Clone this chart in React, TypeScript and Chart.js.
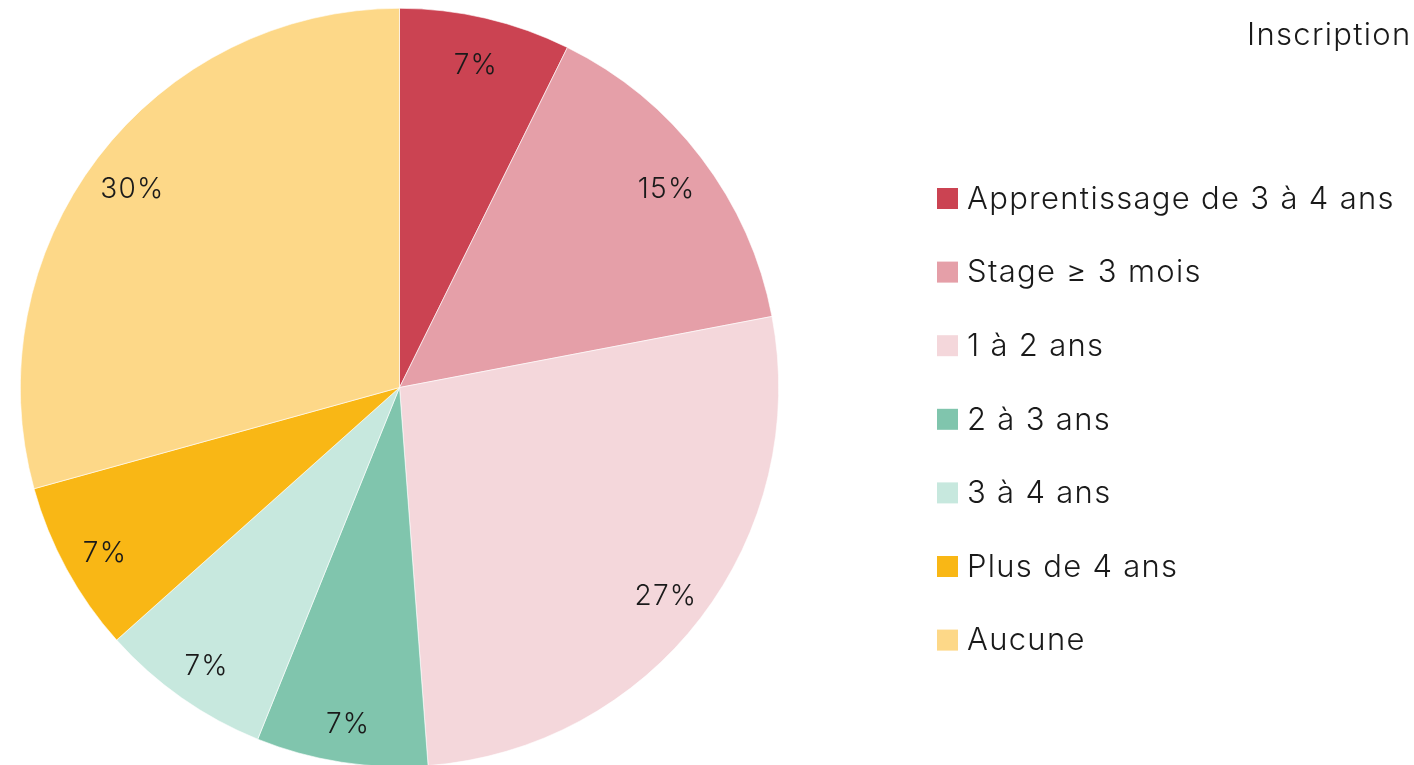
import React, { useEffect, useRef } from "react";
import { Chart, registerables } from "chart.js";

Chart.register(...registerables);

const categories = [
  "Apprentissage de 3 à 4 ans",
  "Stage ≥ 3 mois",
  "1 à 2 ans",
  "2 à 3 ans",
  "3 à 4 ans",
  "Plus de 4 ans",
  "Aucune",
];
const values = [7.3, 14.7, 26.8, 7.3, 7.3, 7.3, 29.3];
const valueLabels = ["7%", "15%", "27%", "7%", "7%", "7%", "30%"];
const colors = ["#CB4352", "#E59FA8", "#F4D7DB", "#80C5AD", "#C7E8DE", "#F9B715", "#FDD888"];
const titleText = "Inscription";

const FONT = "Inter, 'Noto Sans', sans-serif";

const labelsPlugin = {
  id: "sliceLabels",
  afterDatasetsDraw(chart: any) {
    const ctx = chart.ctx;
    const meta = chart.getDatasetMeta(0);
    ctx.save();
    ctx.font = `300 28px ${FONT}`;
    (ctx as any).letterSpacing = "1.2px";
    ctx.fillStyle = "#1a1a1a";
    ctx.textAlign = "center";
    ctx.textBaseline = "middle";
    meta.data.forEach((arc: any, i: number) => {
      const { x, y, startAngle, endAngle, outerRadius } = arc.getProps(
        ["x", "y", "startAngle", "endAngle", "outerRadius"],
        true
      );
      const mid = (startAngle + endAngle) / 2;
      const r = outerRadius * 0.885;
      ctx.fillText(valueLabels[i], x + Math.cos(mid) * r, y + Math.sin(mid) * r + 5);
    });
    ctx.restore();
  },
};

const legendPlugin = {
  id: "customLegend",
  afterDraw(chart: any) {
    const ctx = chart.ctx;
    const labels = chart.data.labels as string[];
    const bg = chart.data.datasets[0].backgroundColor as string[];
    const boxX = 937;
    const box = 21;
    const firstY = 198.5;
    const step = 73.6;
    ctx.save();
    ctx.font = `300 31px ${FONT}`;
    (ctx as any).letterSpacing = "1.3px";
    ctx.textBaseline = "middle";
    ctx.textAlign = "left";
    labels.forEach((lab, i) => {
      const cy = firstY + i * step;
      ctx.fillStyle = bg[i];
      ctx.fillRect(boxX, cy - box / 2, box, box);
      ctx.fillStyle = "#1a1a1a";
      ctx.fillText(lab, boxX + 30, cy + 1);
    });
    // title (partially outside the visible area)
    ctx.fillStyle = "#1a1a1a";
    ctx.textBaseline = "alphabetic";
    ctx.fillText(titleText, 1247, 45);
    ctx.restore();
  },
};

export default function App() {
  const ref = useRef<HTMLCanvasElement | null>(null);
  useEffect(() => {
    document.body.style.margin = "0";
    if (!ref.current) return;
    const chart = new Chart(ref.current, {
      type: "pie",
      data: {
        labels: categories,
        datasets: [
          {
            data: values,
            backgroundColor: colors,
            borderColor: "#ffffff",
            borderWidth: 0.6,
          },
        ],
      },
      options: {
        responsive: false,
        animation: false,
        layout: { padding: { left: 20, top: 8, right: 635, bottom: 8 } },
        plugins: {
          legend: { display: false },
          tooltip: { enabled: false },
        },
      },
      plugins: [labelsPlugin, legendPlugin],
    });
    return () => chart.destroy();
  }, []);
  return (
    <div style={{ position: "relative", width: 1414, height: 765, overflow: "hidden", background: "#fff" }}>
      <canvas ref={ref} width={1414} height={775} style={{ display: "block" }} />
    </div>
  );
}
